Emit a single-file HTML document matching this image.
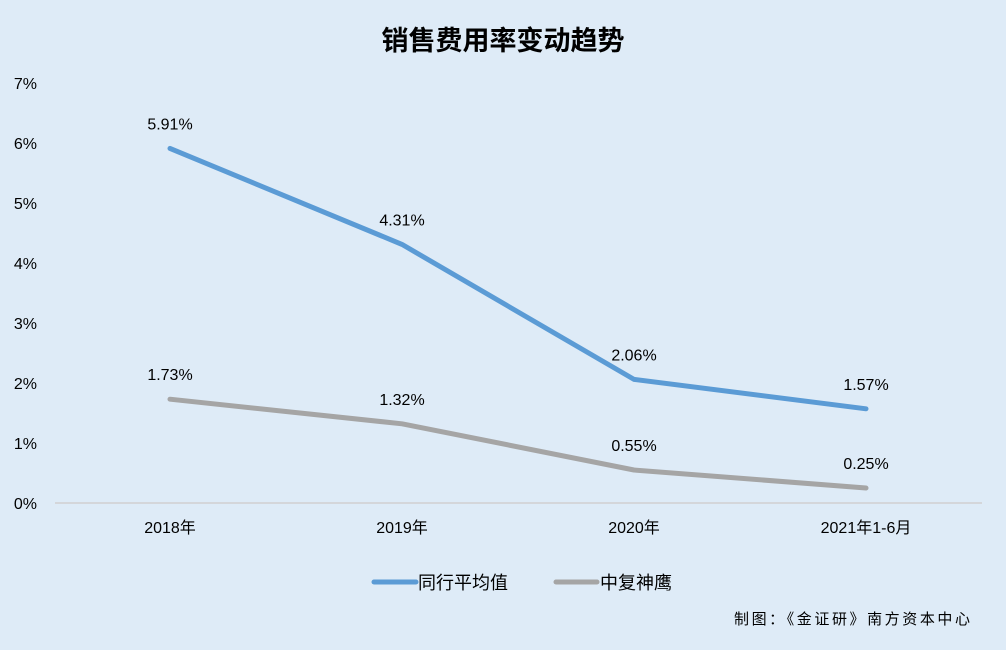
<!DOCTYPE html>
<html><head><meta charset="utf-8"><style>
html,body{margin:0;padding:0;background:#deebf7;}
svg{display:block;font-family:"Liberation Sans","Noto Sans CJK SC",sans-serif;}
</style></head><body>
<svg id="chart" width="1006" height="650" viewBox="0 0 1006 650">
<rect x="0" y="0" width="1006" height="650" fill="#deebf7"/>
<text x="503" y="50" text-anchor="middle" font-size="27" font-weight="bold" fill="#000">销售费用率变动趋势</text>
<g id="yaxis"></g>
<g id="xaxis"></g>
<g id="series"></g>
<g>
<g>
<line x1="374" y1="582" x2="416" y2="582" stroke="#5b9bd5" stroke-width="5" stroke-linecap="round"/>
<text x="418" y="589" font-size="18" fill="#000">同行平均值</text></g>
<g>
<line x1="556" y1="582" x2="597" y2="582" stroke="#a5a5a5" stroke-width="5" stroke-linecap="round"/>
<text x="600" y="589" font-size="18" fill="#000">中复神鹰</text></g>
</g>
<text x="734" y="624" textLength="236" lengthAdjust="spacing" font-size="15" fill="#000">制图：《金证研》南方资本中心</text>
</svg>
<script>
const categories = ["2018年","2019年","2020年","2021年1-6月"];
const industryAvg = [5.91,4.31,2.06,1.57];
const zhongfu = [1.73,1.32,0.55,0.25];
const yTicks = [0,1,2,3,4,5,6,7];
const NS="http://www.w3.org/2000/svg";
const x = i => 170 + i*232;
const y = v => 503 - v*60;
function mk(tag, attrs, parent, txt){const e=document.createElementNS(NS,tag);for(const k in attrs)e.setAttribute(k,attrs[k]);if(txt!==undefined)e.textContent=txt;parent.appendChild(e);return e;}
const ya=document.getElementById('yaxis'), xa=document.getElementById('xaxis'), sg=document.getElementById('series');
yTicks.forEach(t=>{
  const el=mk('text',{x:37,y:y(t)+6,'text-anchor':'end','font-size':16,fill:'#000'},ya,t+'%');
  
  
});
const base=mk('line',{x1:55,y1:y(0),x2:982,y2:y(0),stroke:'#d0d0d0','stroke-width':1.5},xa);


categories.forEach((c,i)=>{
  const el=mk('text',{x:x(i),y:533,'text-anchor':'middle','font-size':16,fill:'#000'},xa,c);
  
  
});
function drawSeries(vals,color,name){
  const p=mk('polyline',{points:vals.map((v,i)=>x(i)+','+y(v)).join(' '),fill:'none',stroke:color,'stroke-width':5,'stroke-linejoin':'round','stroke-linecap':'round'},sg);
  
  
  vals.forEach((v,i)=>{
    const t=mk('text',{x:x(i),y:y(v)-19,'text-anchor':'middle','font-size':16,fill:'#000'},sg,v.toFixed(2)+'%');
    
    
  });
}
drawSeries(zhongfu,'#a5a5a5','zhongfu-shenying');
drawSeries(industryAvg,'#5b9bd5','industry-average');
</script>
</body></html>
